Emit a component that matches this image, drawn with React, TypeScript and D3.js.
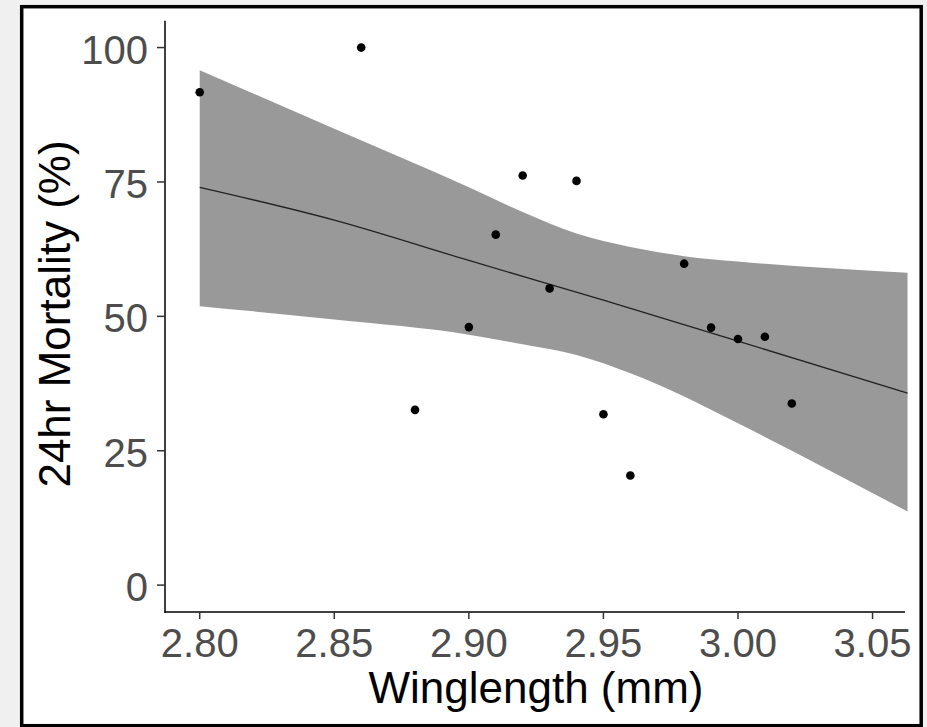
// Scatter of 24hr mortality against wing length, with the fitted curve
// and its confidence band drawn as a grey ribbon.
import React, { useEffect, useRef } from 'react';
import * as d3 from 'd3';

const winglength = [2.80, 2.86, 2.88, 2.90, 2.91, 2.92, 2.93, 2.94, 2.95, 2.96, 2.98, 2.99, 3.00, 3.01, 3.02];
const mortality = [91.7, 100, 32.6, 48.0, 65.2, 76.2, 55.2, 75.2, 31.8, 20.4, 59.8, 47.9, 45.8, 46.2, 33.8];

// fitted curve and band
const fitX = [2.80, 2.85, 2.90, 2.95, 3.00, 3.063];
const fitY = [74.0, 67.9, 60.4, 53.0, 45.4, 35.7];
const bandX = [2.80, 2.85, 2.90, 2.92, 2.94, 2.96, 2.98, 3.00, 3.063];
const bandUpper = [95.8, 84.9, 74.0, 69.4, 65.4, 62.9, 61.2, 60.2, 58.1];
const bandLower = [51.9, 49.4, 46.6, 44.8, 42.8, 39.4, 35.1, 30.1, 13.7];

const xTicks = [2.80, 2.85, 2.90, 2.95, 3.00, 3.05];
const yTicks = [0, 25, 50, 75, 100];

const W = 927, H = 727;
const FONT = '"Liberation Sans", Arial, sans-serif';

export default function App() {
  const ref = useRef<SVGGElement>(null);

  useEffect(() => {
    const g = d3.select(ref.current);
    g.selectAll('*').remove();

    const left = 165, right = 907, top = 20.7, bottom = 612;
    const x = d3.scaleLinear().domain([2.7871, 3.0628]).range([left, right]);
    const y = d3.scaleLinear().domain([-5, 105]).range([bottom, top]);

    const band = bandX.map((v, i) => ({ x: v, lo: bandLower[i], hi: bandUpper[i] }));
    const areaFn = d3.area<any>()
      .x(d => x(d.x))
      .y0(d => y(d.lo))
      .y1(d => y(d.hi))
      .curve(d3.curveMonotoneX);
    g.append('path').attr('d', areaFn(band)).attr('fill', '#999999');

    const fit = fitX.map((v, i) => [x(v), y(fitY[i])] as [number, number]);
    g.append('path')
      .attr('d', d3.line().curve(d3.curveMonotoneX)(fit))
      .attr('fill', 'none')
      .attr('stroke', '#222')
      .attr('stroke-width', 1.3);

    g.selectAll('.pt')
      .data(winglength.map((v, i) => ({ x: v, y: mortality[i] })))
      .enter()
      .append('circle')
      .attr('class', 'pt')
      .attr('cx', d => x(d.x))
      .attr('cy', d => y(d.y))
      .attr('r', 4.3)
      .attr('fill', '#000');

    // axes drawn by hand to get ggplot's classic look
    g.append('line').attr('x1', left).attr('x2', left).attr('y1', top).attr('y2', bottom + 0.75)
      .attr('stroke', '#000').attr('stroke-width', 1.5);
    g.append('line').attr('x1', left - 0.75).attr('x2', 905).attr('y1', bottom).attr('y2', bottom)
      .attr('stroke', '#000').attr('stroke-width', 1.5);

    yTicks.forEach(t => {
      g.append('line').attr('x1', left - 8).attr('x2', left).attr('y1', y(t)).attr('y2', y(t))
        .attr('stroke', '#333').attr('stroke-width', 1.5);
      g.append('text').attr('x', 148).attr('y', y(t)).attr('dy', '0.4em')
        .attr('text-anchor', 'end').attr('font-size', 40).attr('font-family', FONT)
        .attr('fill', '#4d4d4d').text(t);
    });
    xTicks.forEach(t => {
      g.append('line').attr('x1', x(t)).attr('x2', x(t)).attr('y1', bottom).attr('y2', bottom + 7)
        .attr('stroke', '#333').attr('stroke-width', 1.5);
      g.append('text').attr('x', x(t)).attr('y', 657)
        .attr('text-anchor', 'middle').attr('font-size', 40).attr('font-family', FONT)
        .attr('fill', '#4d4d4d').text(t.toFixed(2));
    });

    g.append('text').attr('x', (left + right) / 2).attr('y', 703)
      .attr('text-anchor', 'middle').attr('font-size', 44).attr('font-family', FONT)
      .attr('fill', '#000').text('Winglength (mm)');
    g.append('text').attr('transform', 'translate(70,314) rotate(-90)')
      .attr('text-anchor', 'middle').attr('font-size', 44).attr('font-family', FONT)
      .attr('fill', '#000').text('24hr Mortality (%)');
  }, []);

  return (
    <svg width={W} height={H} style={{ position: 'absolute', left: 0, top: 0, display: 'block' }}>
      <rect x={0} y={0} width={W} height={H} fill="#f0f0f0" />
      <rect x={21.7} y={6.7} width={899.5} height={719} fill="#fff" stroke="#000" strokeWidth={3.5} />
      <g ref={ref}></g>
    </svg>
  );
}
